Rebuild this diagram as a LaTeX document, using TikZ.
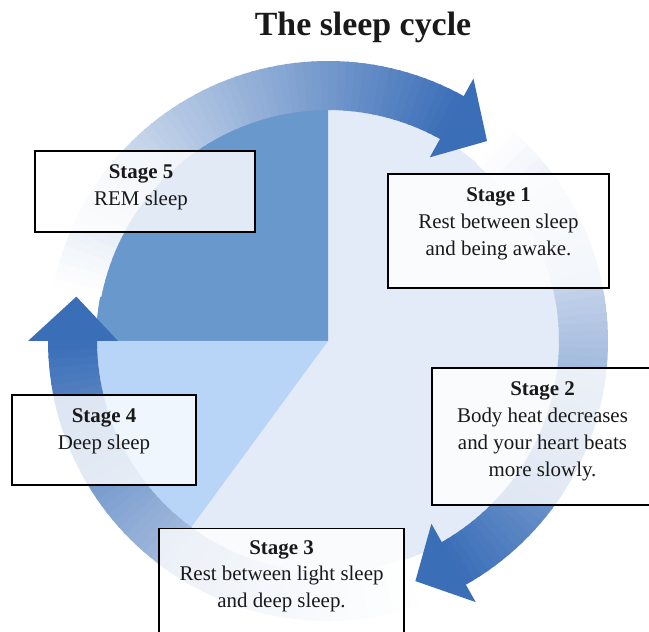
\documentclass[tikz,border=0pt]{standalone}
\usepackage{fontspec}
\setmainfont{Liberation Serif}
\usetikzlibrary{positioning}

\definecolor{arrowblue}{RGB}{58,110,183}
\definecolor{remblue}{RGB}{105,152,205}
\definecolor{deepblue}{RGB}{184,212,246}
\definecolor{paleblue}{RGB}{226,235,247}
\definecolor{inkgray}{RGB}{25,25,25}

\begin{document}
\begin{tikzpicture}[x=1bp, y=1bp]
  \tikzset{stagebox/.style={draw=black, line width=1.3bp, fill=white,
      fill opacity=0.8, inner sep=0pt}}
  \tikzset{stagetext/.style={align=center, inner sep=0pt,
      font=\fontsize{21}{27}\selectfont, text=inkgray}}
  \useasboundingbox (0,0) rectangle (649,632);
  \pgfmathsetmacro{\rin}{231}
  \pgfmathsetmacro{\rout}{280}
  \pgfmathtruncatemacro{\n}{60}
  %
  \begin{scope}[shift={(328,291)}]
    % pie
    \fill[paleblue] (0,0) circle[radius=232bp];
    \fill[remblue] (0,0) -- (90:232) arc[start angle=90, end angle=180, radius=232bp] -- cycle;
    \fill[deepblue] (0,0) -- (180:232) arc[start angle=180, end angle=233.7, radius=232bp] -- cycle;
    % arrows
    \foreach \tail/\base/\tip in {169/61/51.5, 50/-60.5/-70, -71/-180/-190} {
      \foreach \i in {1,...,\n} {
        \pgfmathsetmacro{\aa}{\tail-(\tail-\base)*(\i-1)/\n}
        \pgfmathsetmacro{\ab}{\tail-(\tail-\base)*\i/\n-0.5}
        \pgfmathsetmacro{\p}{100*((\i-0.5)/\n)^1.1}
        \fill[arrowblue!\p!white] (\aa:\rin) arc[start angle=\aa, end angle=\ab, radius=\rin bp]
          -- (\ab:\rout) arc[start angle=\ab, end angle=\aa, radius=\rout bp] -- cycle;
      }
      \fill[arrowblue] (\base:210) -- (\tip:255.5) -- (\base:300) -- cycle;
    }
  \end{scope}
  %
  \node[font=\bfseries\fontsize{34}{40}\selectfont, text=inkgray, anchor=base] (title) at (363,596) {The sleep cycle};
  %
  \node[stagebox, minimum width=220bp, minimum height=81bp] (stage5) at (145,440.5) {};
  \node[stagebox, minimum width=221bp, minimum height=114bp] (stage1) at (498.5,401) {};
  \node[stagebox, minimum width=184bp, minimum height=90bp] (stage4) at (104,192) {};
  \node[stagebox, minimum width=221bp, minimum height=137bp] (stage2) at (542.5,195.5) {};
  \node[stagebox, minimum width=245bp, minimum height=130bp, anchor=north] (stage3) at (281.5,104) {};
  %
  \node[stagetext, below=14bp of stage5.north, xshift=-4bp] (stage5text) {\textbf{Stage 5}\\REM sleep};
  \node[stagetext, below=14bp of stage1.north] (stage1text)
    {\textbf{Stage 1}\\Rest between sleep\\and being awake.};
  \node[stagetext, below=14bp of stage4.north] (stage4text) {\textbf{Stage 4}\\Deep sleep};
  \node[stagetext, below=14bp of stage2.north] (stage2text)
    {\textbf{Stage 2}\\Body heat decreases\\and your heart beats\\more slowly.};
  \node[stagetext, below=12bp of stage3.north] (stage3text)
    {\textbf{Stage 3}\\Rest between light sleep\\and deep sleep.};
\end{tikzpicture}
\end{document}
